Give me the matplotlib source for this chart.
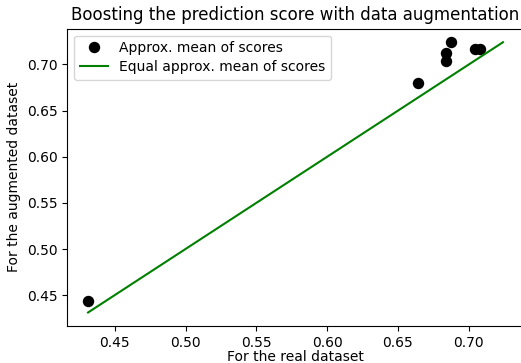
import numpy as np
import matplotlib
matplotlib.use("Agg")
import matplotlib.pyplot as plt

# Approximate mean scores, real dataset vs augmented dataset
real_scores = np.array([0.4312, 0.6638, 0.6842, 0.6842, 0.6877, 0.7041, 0.7081])
augmented_scores = np.array([0.4435, 0.6794, 0.7122, 0.7035, 0.7241, 0.7165, 0.7165])

# Reference line y = x over the full range of values
lo = min(real_scores.min(), augmented_scores.min())
hi = max(real_scores.max(), augmented_scores.max())
diag = np.array([lo, hi])

fig = plt.figure(figsize=(5.21, 3.63), dpi=100)
ax = fig.add_axes([0.1292, 0.1019, 0.876, 0.819])
ax.plot(real_scores, augmented_scores, 'ko', markersize=7.2, label='Approx. mean of scores')
ax.plot(diag, diag, color='g', linewidth=1.5, label='Equal approx. mean of scores')
ax.set_xlabel('For the real dataset', labelpad=0)
ax.set_ylabel('For the augmented dataset')
ax.set_title('Boosting the prediction score with data augmentation')
ax.legend(loc='upper left', numpoints=1, labelspacing=0.35)
plt.savefig('out.png', dpi=100)
